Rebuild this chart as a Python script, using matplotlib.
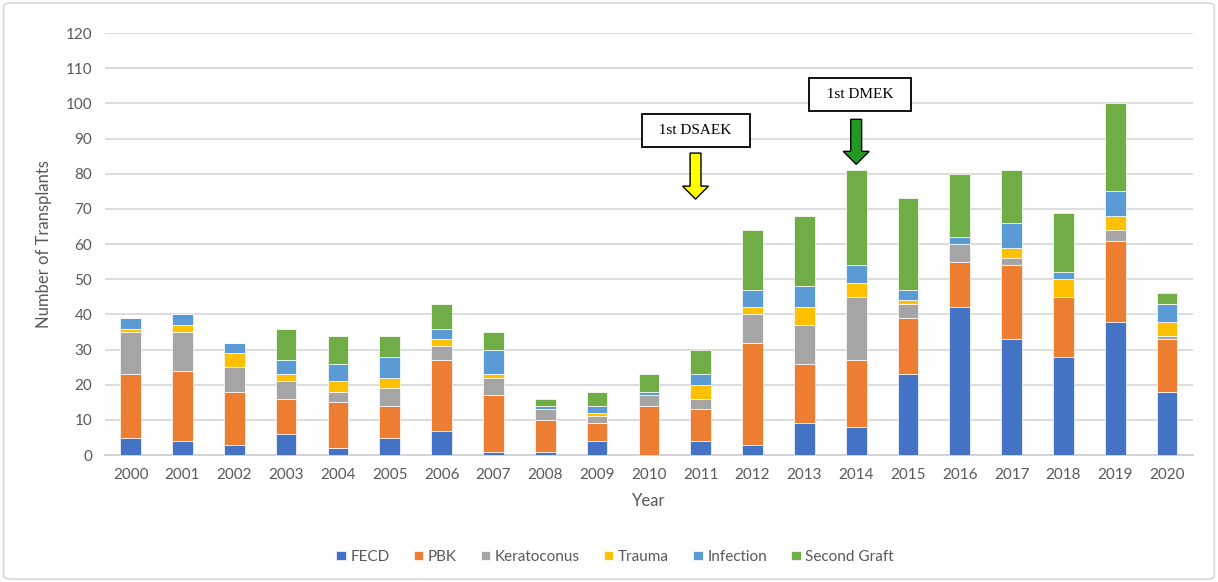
import matplotlib
matplotlib.use('Agg')
import matplotlib.pyplot as plt
from matplotlib.patches import FancyArrow, FancyBboxPatch
import numpy as np

years = [str(y) for y in range(2000, 2021)]
fecd = [5, 4, 3, 6, 2, 5, 7, 1, 1, 4, 0, 4, 3, 9, 8, 23, 42, 33, 28, 38, 18]
pbk = [18, 20, 15, 10, 13, 9, 20, 16, 9, 5, 14, 9, 29, 17, 19, 16, 13, 21, 17, 23, 15]
kerato = [12, 11, 7, 5, 3, 5, 4, 5, 3, 2, 3, 3, 8, 11, 18, 4, 5, 2, 0, 3, 1]
trauma = [1, 2, 4, 2, 3, 3, 2, 1, 0, 1, 0, 4, 2, 5, 4, 1, 0, 3, 5, 4, 4]
infection = [3, 3, 3, 4, 5, 6, 3, 7, 1, 2, 1, 3, 5, 6, 5, 3, 2, 7, 2, 7, 5]
second = [0, 0, 0, 9, 8, 6, 7, 5, 2, 4, 5, 7, 17, 20, 27, 26, 18, 15, 17, 25, 3]

series = [('FECD', fecd, '#4472C4'), ('PBK', pbk, '#ED7D31'),
          ('Keratoconus', kerato, '#A5A5A5'), ('Trauma', trauma, '#FFC000'),
          ('Infection', infection, '#5B9BD5'), ('Second Graft', second, '#70AD47')]

plt.rcParams['font.family'] = ['Lato', 'DejaVu Sans']

fig = plt.figure(figsize=(12.18, 5.82), dpi=100)
ax = fig.add_axes([0.086, 0.218, 0.8935, 0.725])

x = np.arange(len(years))
bottom = np.zeros(len(years))
for name, vals, col in series:
    ax.bar(x, vals, 0.4, bottom=bottom, color=col, label=name,
           edgecolor='white', linewidth=0.5, zorder=3)
    bottom += np.array(vals)

ax.set_xlim(-0.5, len(years) - 0.5)
ax.set_ylim(0, 120)
ax.set_yticks(range(0, 121, 10))
ax.set_xticks(x)
ax.set_xticklabels(years)
ax.tick_params(length=0, labelsize=11, colors='#595959', pad=9)
ax.grid(axis='y', color='#D9D9D9', linewidth=1.3, zorder=0)
for s in ['top', 'right', 'left']:
    ax.spines[s].set_visible(False)
ax.spines['bottom'].set_color('#D0D0D0')
ax.spines['bottom'].set_linewidth(1.3)

ax.set_xlabel('Year', fontsize=12, color='#595959', labelpad=8)
ax.set_ylabel('Number of Transplants', fontsize=12, color='#595959', labelpad=10)

# annotation boxes and arrows
box = dict(boxstyle='square,pad=0.65', fc='white', ec='black', lw=1.3)
ax.text(10.9, 92.3, '  1st DSAEK  ', ha='center', va='center', fontsize=11,
        family='Liberation Serif', bbox=box, zorder=5)
ax.text(14.07, 102.6, '  1st DMEK  ', ha='center', va='center', fontsize=11,
        family='Liberation Serif', bbox=box, zorder=5)
ax.add_patch(FancyArrow(10.9, 85.9, 0, -13.1, width=0.21, head_width=0.5,
                        head_length=3.7, length_includes_head=True,
                        fc='#FFFF00', ec='black', lw=1.0, zorder=5))
ax.add_patch(FancyArrow(14.0, 95.5, 0, -12.8, width=0.21, head_width=0.5,
                        head_length=3.7, length_includes_head=True,
                        fc='#229922', ec='black', lw=1.0, zorder=5))

fig.legend(loc='center', bbox_to_anchor=(0.505, 0.043), ncol=6, frameon=False,
           fontsize=11, handlelength=0.6, handleheight=0.6, handletextpad=0.3,
           columnspacing=1.6, labelcolor='#595959')

fig.patches.append(FancyBboxPatch((0.003, 0.005), 0.994, 0.99,
                                  boxstyle='round,pad=0,rounding_size=0.006',
                                  transform=fig.transFigure, fc='none',
                                  ec='#D9D9D9', lw=1.2))

fig.savefig('out.png', dpi=100)
